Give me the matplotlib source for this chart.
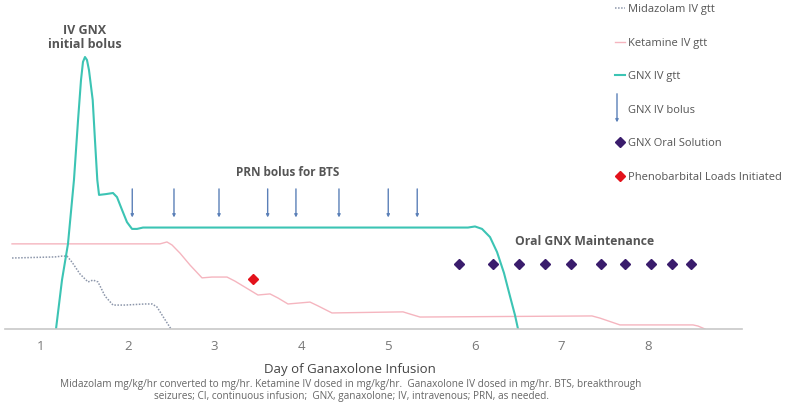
import numpy as np
import matplotlib
matplotlib.use("Agg")
import matplotlib.pyplot as plt
from matplotlib.lines import Line2D
from matplotlib.patches import FancyArrowPatch
from matplotlib.legend_handler import HandlerBase

plt.rcParams['font.family'] = ['Open Sans', 'DejaVu Sans']

# GNX IV continuous infusion (day, relative dose)
gnx_day = [1.173, 1.242, 1.311, 1.380, 1.427, 1.461, 1.484, 1.507, 1.530, 1.553, 1.596,
           1.622, 1.649, 1.669, 1.749, 1.830, 1.876, 1.934, 1.991, 2.049, 2.107, 2.176,
           5.922, 6.003, 6.084, 6.176, 6.257, 6.337, 6.406, 6.464, 6.499]
gnx_val = [0, 18.0, 31.3, 54.8, 76.8, 91.5, 98.2, 100, 98.9, 95.2, 84.2,
           69.5, 54.8, 49.3, 49.6, 50.0, 48.5, 43.8, 39.3, 36.8, 36.8, 37.3,
           37.3, 37.7, 36.8, 33.8, 28.3, 20.6, 12.1, 5.1, 0]

# Ketamine IV gtt
ket_day = [0.666, 2.372, 2.452, 2.510, 2.602, 2.718, 2.856, 2.971, 3.144, 3.236, 3.501,
           3.640, 3.732, 3.847, 4.101, 4.193, 4.354, 5.173, 5.254, 5.369, 7.352, 7.444,
           7.674, 8.516, 8.573, 8.654]
ket_val = [31.3, 31.3, 32.0, 30.9, 27.9, 23.5, 18.8, 19.1, 19.1, 17.6, 12.5,
           12.9, 11.4, 9.2, 9.9, 8.5, 5.9, 6.3, 5.5, 4.4, 4.8, 4.0,
           1.5, 1.5, 1.1, 0]

# Midazolam IV gtt
mid_day = [0.666, 1.161, 1.242, 1.300, 1.357, 1.450, 1.542, 1.600, 1.657, 1.738, 1.830,
           1.968, 2.199, 2.280, 2.337, 2.418, 2.499]
mid_val = [26.1, 26.5, 26.8, 26.8, 24.6, 20.2, 17.3, 18.0, 17.3, 12.1, 8.8,
           8.8, 9.2, 9.2, 8.1, 4.0, 0]

# PRN GNX IV boluses for BTS
bolus_day = [2.052, 2.533, 3.052, 3.613, 3.939, 4.435, 5.003, 5.337]

# GNX oral solution doses
oral_day = [5.822, 6.214, 6.510, 6.813, 7.110, 7.455, 7.735, 8.028, 8.270, 8.493]

# Phenobarbital load
pheno_day = [3.447]

tick_days = [1, 2, 3, 4, 5, 6, 7, 8]

teal = '#3cc4b4'
pink = '#f5b5bf'
mid_col = '#8c96aa'
arrow_col = '#5b80b8'
purple = '#3a1c6c'
red = '#e3121b'
txt = '#555555'


class HandlerArrow(HandlerBase):
    def create_artists(self, legend, orig_handle, xdescent, ydescent, width, height, fontsize, trans):
        x = 0.2 * width
        a = FancyArrowPatch((x, height + 10), (x, -9), arrowstyle='-|>', mutation_scale=4,
                            color=arrow_col, lw=1.0, transform=trans)
        return [a]


fig = plt.figure(figsize=(7.87, 4.07), dpi=100)
ax = fig.add_axes([5 / 787, 1 - 329 / 407, 737 / 787, 329 / 407])

ax.plot(mid_day, mid_val, color=mid_col, lw=1.1, ls=(0, (1, 1)), label='Midazolam IV gtt')
ax.plot(ket_day, ket_val, color=pink, lw=1.0, label='Ketamine IV gtt')
ax.plot(gnx_day, gnx_val, color=teal, lw=1.5, label='GNX IV gtt')

for d in bolus_day:
    ax.annotate('', xy=(d, 41.0), xytext=(d, 51.5),
                arrowprops=dict(arrowstyle='-|>', color=arrow_col, lw=1.0, mutation_scale=4,
                                shrinkA=0, shrinkB=0))

ax.plot(oral_day, [23.9] * len(oral_day), ls='none', marker='D', ms=5.5, color=purple)
ax.plot(pheno_day, [18.3], ls='none', marker='D', ms=5.5, color=red)

ax.text(1.507, 107.3, 'IV GNX\ninitial bolus', ha='center', va='center', fontsize=9,
        fontweight='bold', color=txt, linespacing=1.1)
ax.text(3.847, 57.5, 'PRN bolus for BTS', ha='center', va='center', fontsize=8.5,
        fontweight='bold', color=txt)
ax.text(7.265, 32.0, 'Oral GNX Maintenance', ha='center', va='center', fontsize=8.7,
        fontweight='bold', color=txt)

ax.set_xlim(0.585, 9.081)
ax.set_ylim(0, 120.96)
ax.set_xticks(tick_days)
ax.set_xticklabels([str(t) for t in tick_days], color='#777777', fontsize=9.5)
ax.tick_params(axis='x', length=0, pad=8)
ax.set_yticks([])
for s in ['top', 'right', 'left']:
    ax.spines[s].set_visible(False)
ax.spines['bottom'].set_color('#c8c8c8')
ax.spines['bottom'].set_linewidth(1.2)

ax.set_xlabel('Day of Ganaxolone Infusion', fontsize=9.5, color='#444444')
ax.xaxis.set_label_coords((350 - 5) / 737, -(363 - 329) / 329)

handles = [
    Line2D([], [], color=mid_col, lw=1.1, ls=(0, (1, 1))),
    Line2D([], [], color=pink, lw=1.0),
    Line2D([], [], color=teal, lw=1.5),
    'arrow',
    Line2D([], [], ls='none', marker='D', ms=5.5, color=purple),
    Line2D([], [], ls='none', marker='D', ms=5.5, color=red),
]
labels = ['Midazolam IV gtt', 'Ketamine IV gtt', 'GNX IV gtt', 'GNX IV bolus',
          'GNX Oral Solution', 'Phenobarbital Loads Initiated']
leg = fig.legend(handles, labels, loc='upper left', bbox_to_anchor=(615 / 787, 1 - 4 / 407),
                 frameon=False, fontsize=8, handlelength=0.9, handletextpad=0.3,
                 labelspacing=2.03, borderpad=0, borderaxespad=0,
                 handler_map={str: HandlerArrow()})
for t in leg.get_texts():
    t.set_color(txt)

fig.text(351 / 787, 1 - 384 / 407,
         'Midazolam mg/kg/hr converted to mg/hr. Ketamine IV dosed in mg/kg/hr.  Ganaxolone IV dosed in mg/hr. BTS, breakthrough',
         ha='center', va='center', fontsize=7.2, color='#666666')
fig.text(352 / 787, 1 - 396 / 407,
         'seizures; CI, continuous infusion;  GNX, ganaxolone; IV, intravenous; PRN, as needed.',
         ha='center', va='center', fontsize=7.2, color='#666666')

fig.savefig('out.png', dpi=100)
